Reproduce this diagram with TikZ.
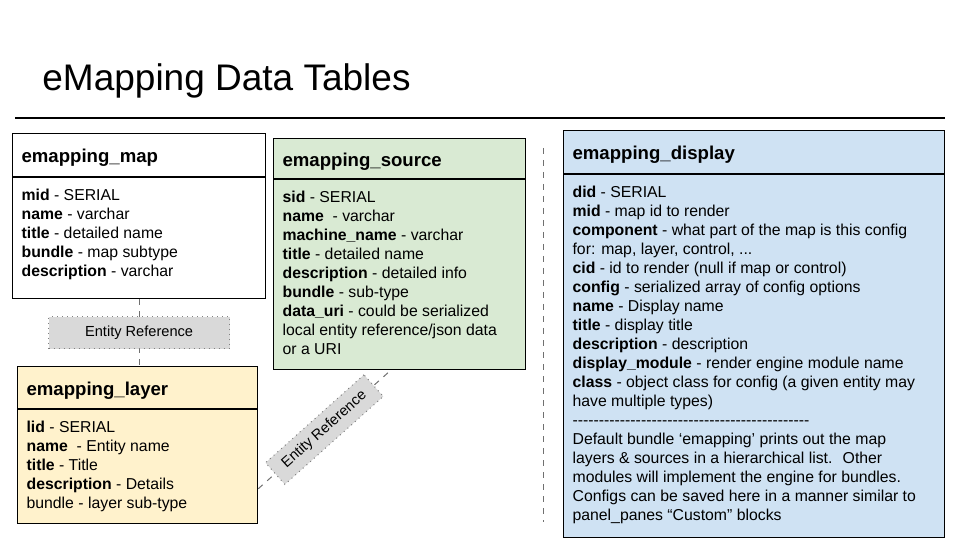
\documentclass[tikz,border=0pt]{standalone}
\usepackage{fontspec}
\setmainfont{Liberation Sans}
\usetikzlibrary{positioning}
\usetikzlibrary{calc}

\definecolor{srcgreen}{HTML}{D9EAD3}
\definecolor{layyellow}{HTML}{FFF2CC}
\definecolor{dispblue}{HTML}{CFE2F3}
\definecolor{refgray}{HTML}{D9D9D9}
\definecolor{linkgray}{HTML}{707070}

% body of a table: fixed height, text from the top
\newcommand\rows[3]{\parbox[t][#1][t]{#2}{#3}}

\begin{document}
\begin{tikzpicture}[x=0.5pt, y=-0.5pt,
  head/.style={draw, line width=0.6pt, anchor=north west, inner xsep=4.5pt, align=left,
    font=\fontsize{9.3}{11}\selectfont\bfseries, text height=9pt, text depth=1.5pt},
  body/.style={draw, line width=0.6pt, anchor=north west, inner xsep=4.5pt, inner ysep=5.8pt,
    font=\fontsize{7.9}{9.5}\selectfont},
  link/.style={dashed, linkgray, line width=0.5pt},
  refbox/.style={draw=gray, dotted, fill=refgray, text=black, inner sep=0pt,
    font=\fontsize{7.3}{9}\selectfont}]

  \useasboundingbox (0,0) rectangle (960,540);

  \node[anchor=base west, inner sep=0pt, font=\fontsize{18.5}{22}\selectfont] (title) at (42,91) {eMapping Data Tables};
  \draw[line width=0.6pt] (15,118) -- (945,118);

  % emapping_map
  \node[head, text width=117.5pt, minimum height=21.5pt] (map) at (12,133) {emapping\_map};
  \node[body] (map body) at (map.south west) {\rows{48.9pt}{117.5pt}{%
    \textbf{mid} - SERIAL\\
    \textbf{name} - varchar\\
    \textbf{title} - detailed name\\
    \textbf{bundle} - map subtype\\
    \textbf{description} - varchar}};

  % emapping_source
  \node[head, fill=srcgreen, text width=117pt, minimum height=20pt] (src) at (273,138) {emapping\_source};
  \node[body, fill=srcgreen] (src body) at (src.south west) {\rows{83.4pt}{117pt}{%
    \textbf{sid} - SERIAL\\
    \textbf{name}~ - varchar\\
    \textbf{machine\_name} - varchar\\
    \textbf{title} - detailed name\\
    \textbf{description} - detailed info\\
    \textbf{bundle} - sub-type\\
    \textbf{data\_uri} - could be serialized\\
    local entity reference/json data\\
    or a URI}};

  % emapping_layer
  \node[head, fill=layyellow, text width=111pt, minimum height=21pt] (lay) at (17,366) {emapping\_layer};
  \node[body, fill=layyellow] (lay body) at (lay.south west) {\rows{45.4pt}{111pt}{%
    \textbf{lid} - SERIAL\\
    \textbf{name}~ - Entity name\\
    \textbf{title} - Title\\
    \textbf{description} - Details\\
    bundle - layer sub-type}};

  % emapping_display
  \node[head, fill=dispblue, text width=181.5pt, minimum height=21.5pt] (disp) at (563,130) {emapping\_display};
  \node[body, fill=dispblue] (disp body) at (disp.south west) {\rows{169.9pt}{181.5pt}{%
    \textbf{did} - SERIAL\\
    \textbf{mid} - map id to render\\
    \textbf{component} - what part of the map is this config\\
    for: map, layer, control, ...\\
    \textbf{cid} - id to render (null if map or control)\\
    \textbf{config} - serialized array of config options\\
    \textbf{name} - Display name\\
    \textbf{title} - display title\\
    \textbf{description} - description\\
    \textbf{display\_module} - render engine module name\\
    \textbf{class} - object class for config (a given entity may\\
    have multiple types)\\
    \foreach \k in {1,...,45}{-}\\
    Default bundle ‘emapping’ prints out the map\\
    layers \& sources in a hierarchical list.~ Other\\
    modules will implement the engine for bundles.\\
    Configs can be saved here in a manner similar to\\
    panel\_panes “Custom” blocks}};

  % references between the tables
  \draw[link] (map body.south) -- (map body.south |- lay.north)
    node[midway, refbox, minimum width=90.5pt, minimum height=16pt] (ref map) {Entity Reference};
  \draw[link] ([yshift=-11pt]lay body.east) -- ([xshift=-4.5pt]src body.south)
    node[midway, sloped, refbox, minimum width=66pt, minimum height=14.5pt] (ref src) {Entity Reference};

  \draw[link] (543,148) -- (543,522);

\end{tikzpicture}
\end{document}
